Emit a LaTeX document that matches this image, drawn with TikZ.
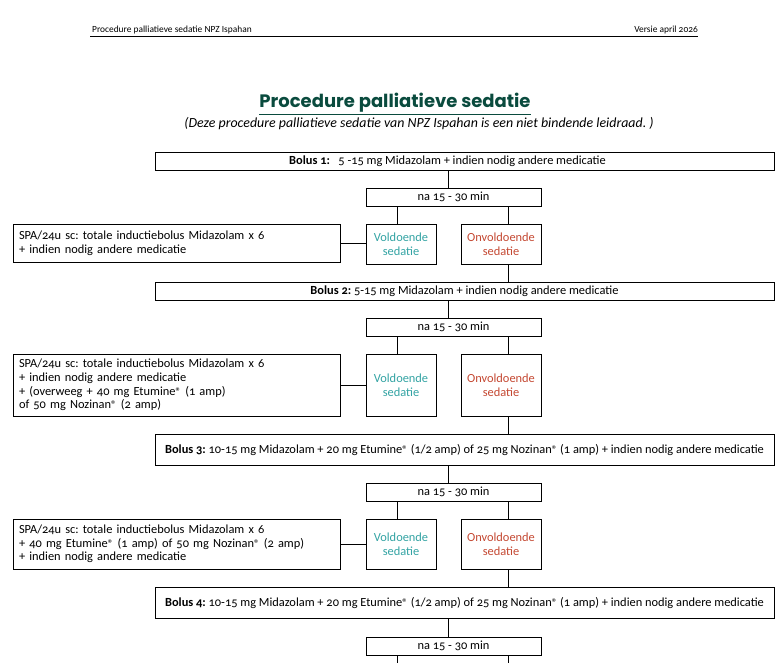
\documentclass[tikz,border=0pt]{standalone}
\usepackage{fontspec}
\setmainfont{Carlito}[Numbers=OldStyle]
\newfontfamily\titlefont{Poppins}
\newcommand\regmark{{\fontsize{11}{11}\selectfont ®}}
\definecolor{titlegreen}{RGB}{10,75,62}
\definecolor{okteal}{RGB}{51,163,163}
\definecolor{notred}{RGB}{196,72,50}
\frenchspacing
\begin{document}
\begin{tikzpicture}[x=1pt,y=-1pt,
  box/.style={draw, line width=0.9pt, inner sep=0pt, align=center, font=\fontsize{12.4}{13.6}\selectfont},
  spabox/.style={box, align=left, inner xsep=6pt},
  conn/.style={line width=0.9pt},
  hdr/.style={font=\fontsize{9.4}{11}\selectfont, inner sep=0pt}]
\useasboundingbox (0,0) rectangle (784,663);
% header
\node[hdr, anchor=base west] (hl) at (92,33) {Procedure palliatieve sedatie NPZ Ispahan};
\node[hdr, anchor=base east] (hr) at (698,33) {Versie april 2026};
\draw[line width=0.8pt] (90,36.5) -- (698,36.5);
% title
\node[inner sep=0pt, text=titlegreen, font=\titlefont\bfseries\fontsize{18}{20}\selectfont] (title) at (395,104) {\underline{Procedure palliatieve sedatie}};
\node[inner sep=0pt, font=\itshape\fontsize{13.9}{15}\selectfont] (sub) at (419,124) {(Deze procedure palliatieve sedatie van NPZ Ispahan is een niet bindende leidraad. )};
% coordinates for connector columns
\coordinate (trunk) at (448.7,0);
\coordinate (lcol) at (397.7,0);
\coordinate (rcol) at (508.7,0);
% row 1
\node[box, minimum width=619, minimum height=18] (b1) at (464.5,161) {\textbf{Bolus 1:}\ \ \ 5 -15 mg Midazolam + indien nodig andere medicatie\hspace{34pt}};
\node[box, minimum width=175, minimum height=18] (n1) at (453.5,197) {na 15 - 30 min};
\node[spabox, text width=315, minimum height=38] (s1) at (176.5,243) {SPA/24u sc: totale inductiebolus Midazolam x 6\\+ indien nodig andere medicatie};
\node[box, minimum width=70, minimum height=40, text=okteal] (v1) at (401,244) {Voldoende\\sedatie};
\node[box, minimum width=80, minimum height=40, text=notred] (o1) at (501,244) {Onvoldoende\\sedatie};
% row 2
\node[box, minimum width=619, minimum height=18] (b2) at (464.5,291) {\textbf{Bolus 2:} 5-15 mg Midazolam + indien nodig andere medicatie};
\node[box, minimum width=175, minimum height=18] (n2) at (453.5,327) {na 15 - 30 min};
\node[spabox, text width=315, minimum height=62] (s2) at (176.5,385) {SPA/24u sc: totale inductiebolus Midazolam x 6\\+ indien nodig andere medicatie\\+ (overweeg + 40 mg Etumine\regmark{} (1 amp)\\of 50 mg Nozinan\regmark{} (2 amp)};
\node[box, minimum width=70, minimum height=62, text=okteal] (v2) at (401,385) {Voldoende\\sedatie};
\node[box, minimum width=80, minimum height=62, text=notred] (o2) at (501,385) {Onvoldoende\\sedatie};
% row 3
\node[box, minimum width=619, minimum height=31] (b3) at (464.5,450) {\textbf{Bolus 3:} 10-15 mg Midazolam + 20 mg Etumine\regmark{} (1/2 amp) of 25 mg Nozinan\regmark{} (1 amp) + indien nodig andere medicatie};
\node[box, minimum width=175, minimum height=18] (n3) at (453.5,492.3) {na 15 - 30 min};
\node[spabox, text width=315, minimum height=50] (s3) at (176.5,544) {SPA/24u sc: totale inductiebolus Midazolam x 6\\+ 40 mg Etumine\regmark{} (1 amp) of 50 mg Nozinan\regmark{} (2 amp)\\+ indien nodig andere medicatie};
\node[box, minimum width=70, minimum height=50, text=okteal] (v3) at (401,544) {Voldoende\\sedatie};
\node[box, minimum width=80, minimum height=50, text=notred] (o3) at (501,544) {Onvoldoende\\sedatie};
% row 4
\node[box, minimum width=619, minimum height=31] (b4) at (464.5,603) {\textbf{Bolus 4:} 10-15 mg Midazolam + 20 mg Etumine\regmark{} (1/2 amp) of 25 mg Nozinan\regmark{} (1 amp) + indien nodig andere medicatie};
\node[box, minimum width=175, minimum height=18] (n4) at (453.5,646) {na 15 - 30 min};
\coordinate (e4l) at (397.7,663);
\coordinate (e4r) at (508.7,663);
% connectors
\foreach \i in {1,2,3,4}{
  \draw[conn] (b\i.south -| trunk) -- (n\i.north -| trunk);
}
\foreach \i in {1,2,3}{
  \draw[conn] (n\i.south -| lcol) -- (v\i.north -| lcol);
  \draw[conn] (n\i.south -| rcol) -- (o\i.north -| rcol);
  \draw[conn] (s\i.east) -- (v\i.west |- s\i.east);
}
\draw[conn] (o1.south -| rcol) -- (b2.north -| rcol);
\draw[conn] (o2.south -| rcol) -- (b3.north -| rcol);
\draw[conn] (o3.south -| rcol) -- (b4.north -| rcol);
\draw[conn] (n4.south -| lcol) -- (e4l);
\draw[conn] (n4.south -| rcol) -- (e4r);
\end{tikzpicture}
\end{document}
